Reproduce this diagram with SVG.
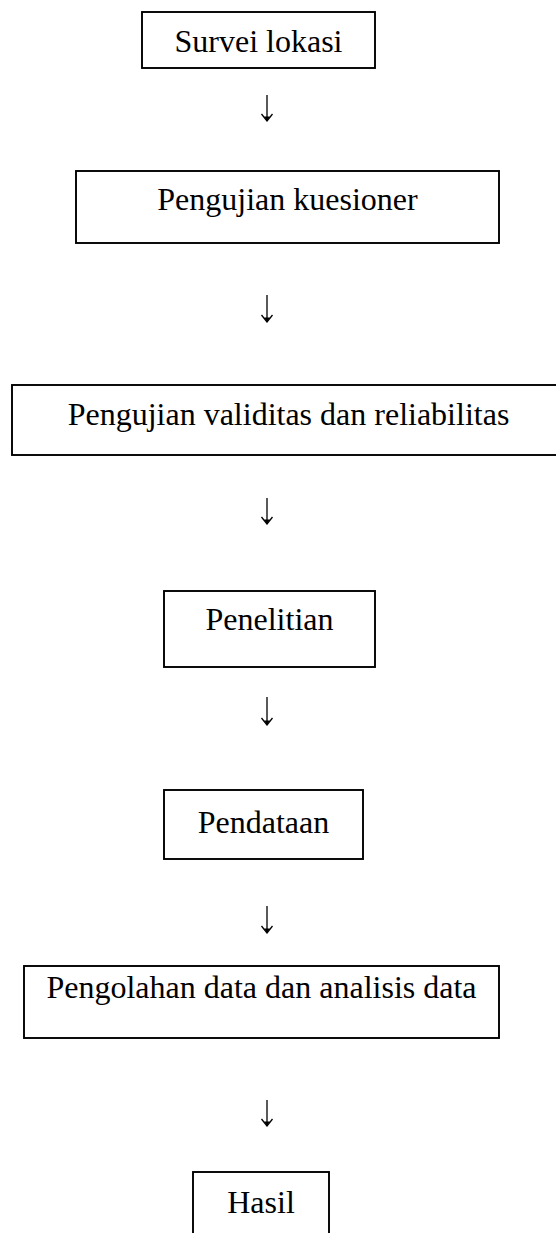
<svg xmlns="http://www.w3.org/2000/svg" width="556" height="1233" viewBox="0 0 556 1233">
  <style>
    .box { fill: #ffffff; stroke: #000000; stroke-width: 1.9; }
    .lbl { font-family: "Liberation Serif", "Times New Roman", serif; font-size: 32px; fill: #000000; text-anchor: middle; }
    .conn { stroke: #000000; stroke-width: 1.3; fill: none; }
  </style>
  <defs>
    <marker id="ah" viewBox="-8 -7 9 14" refX="0" refY="0" markerWidth="9" markerHeight="14" markerUnits="userSpaceOnUse" orient="auto">
      <path d="M-7,-5.5 L0,0 L-7,5.5" fill="none" stroke="#000000" stroke-width="1.3"/>
      <path d="M-4.5,-2.8 L0,0 L-4.5,2.8 Z" fill="#000000"/>
    </marker>
  </defs>
  <rect width="556" height="1233" fill="#ffffff"/>

  <g id="connectors">
    <line class="conn" x1="267" y1="95" x2="267" y2="121" marker-end="url(#ah)"/>
    <line class="conn" x1="267" y1="295" x2="267" y2="322" marker-end="url(#ah)"/>
    <line class="conn" x1="267" y1="498" x2="267" y2="524" marker-end="url(#ah)"/>
    <line class="conn" x1="267" y1="697" x2="267" y2="725" marker-end="url(#ah)"/>
    <line class="conn" x1="267" y1="906" x2="267" y2="933" marker-end="url(#ah)"/>
    <line class="conn" x1="267" y1="1100" x2="267" y2="1126" marker-end="url(#ah)"/>
  </g>

  <g id="survei">
    <rect class="box" x="142" y="12" width="233" height="56"/>
    <text class="lbl" x="258.5" y="52">Survei lokasi</text>
  </g>
  <g id="kuesioner">
    <rect class="box" x="76" y="171" width="423" height="72"/>
    <text class="lbl" x="287.5" y="210">Pengujian kuesioner</text>
  </g>
  <g id="validitas">
    <rect class="box" x="12" y="385" width="560" height="70"/>
    <text class="lbl" x="288.5" y="425">Pengujian validitas dan reliabilitas</text>
  </g>
  <g id="penelitian">
    <rect class="box" x="164" y="591" width="211" height="76"/>
    <text class="lbl" x="269.5" y="630">Penelitian</text>
  </g>
  <g id="pendataan">
    <rect class="box" x="164" y="790" width="199" height="69"/>
    <text class="lbl" x="263.5" y="833">Pendataan</text>
  </g>
  <g id="pengolahan">
    <rect class="box" x="24" y="966" width="475" height="72"/>
    <text class="lbl" x="261.5" y="998">Pengolahan data dan analisis data</text>
  </g>
  <g id="hasil">
    <rect class="box" x="193" y="1172" width="136" height="80"/>
    <text class="lbl" x="261" y="1213">Hasil</text>
  </g>
</svg>
